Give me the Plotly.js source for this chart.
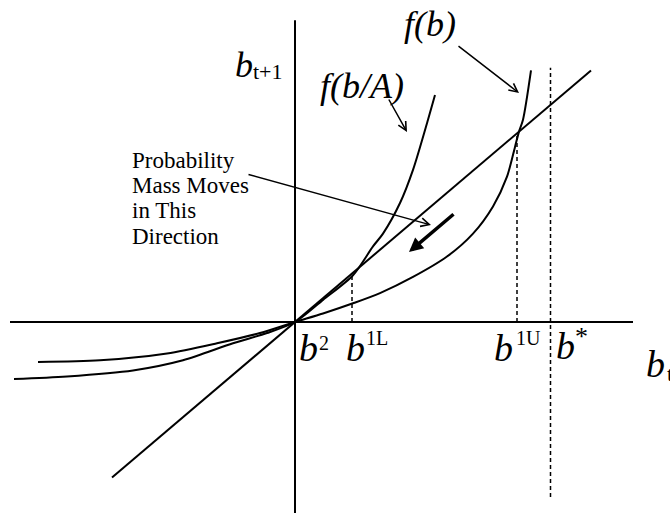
<!DOCTYPE html>
<html>
<head>
<meta charset="utf-8">
<script src="https://cdn.plot.ly/plotly-3.0.1.min.js"></script>
<style>
  html, body { margin: 0; padding: 0; background: #fff; }
  #plotDiv { width: 670px; height: 513px; }
</style>
</head>
<body>
<div id="plotDiv"></div>
<script>
// diagram units: 45 degree line is y = x, origin is b^2
let fbX = [-2.57, -1.95, -1.28, -0.78, -0.35, 0, 0.28, 0.58, 0.85, 1.18, 1.52, 1.78, 1.98, 2.12, 2.20, 2.24, 2.28, 2.36];
let fbY = [-0.47, -0.45, -0.37, -0.25, -0.13, 0, 0.10, 0.22, 0.34, 0.53, 0.77, 1.04, 1.36, 1.71, 2.06, 2.24, 2.38, 2.96];

let fbaX = [-2.81, -2.28, -1.62, -1.12, -0.62, -0.28, 0, 0.28, 0.58, 0.78, 0.88, 1.05, 1.18, 1.33, 1.40];
let fbaY = [-0.67, -0.64, -0.57, -0.45, -0.25, -0.13, 0, 0.26, 0.55, 0.89, 1.04, 1.40, 1.79, 2.38, 2.67];

let diagX = [-1.83, 2.96]; // 45 degree line
let horizX = [-2.85, 3.38];
let vertY = [3.55, -2.3];

let b1L = 0.57, b1U = 2.22, bStar = 2.555;
let bStarY = [-2.06, 2.99];

let black = "#000";
let serif = "Liberation Serif";

function X(px) { return (px - 295) / 100; }
function Y(py) { return (322 - py) / 85; }

let solid = { color: black, width: 2 };
let dashed = { color: black, width: 1.5, dash: "4px,3px" };

let data = [
  { x: horizX, y: [0, 0], mode: "lines", line: solid },
  { x: [0, 0], y: vertY, mode: "lines", line: solid },
  { x: diagX, y: diagX, mode: "lines", line: solid },
  { x: fbX, y: fbY, mode: "lines", line: { color: black, width: 2, shape: "spline", smoothing: 0.8 } },
  { x: fbaX, y: fbaY, mode: "lines", line: { color: black, width: 2, shape: "spline", smoothing: 0.8 } },
  { x: [b1L, b1L], y: [0, b1L], mode: "lines", line: dashed },
  { x: [b1U, b1U], y: [0, b1U], mode: "lines", line: dashed },
  { x: [bStar, bStar], y: bStarY, mode: "lines", line: dashed }
];

// text piece: left edge px, baseline py
function txt(s, px, py, size, anchor) {
  return {
    text: s, x: X(px), y: Y(py - 0.3375 * size), xref: "x", yref: "y",
    xanchor: anchor || "left", yanchor: "middle", showarrow: false,
    font: { family: serif, size: size, color: black, style: "normal" }, borderpad: 0
  };
}

function itxt(s, px, py, size, anchor) {
  let a = txt(s, px, py, size, anchor);
  a.font.style = "italic";
  return a;
}

function arrow(hx, hy, tx, ty, w, head, sz) {
  return {
    text: "", x: X(hx), y: Y(hy), xref: "x", yref: "y",
    ax: tx - hx, ay: ty - hy, showarrow: true,
    arrowcolor: black, arrowwidth: w, arrowhead: head, arrowsize: sz, standoff: 0
  };
}

let annotations = [
  itxt("f(b)", 430, 36, 36, "center"),
  itxt("f(b/A)", 362, 98, 36, "center"),
  itxt("b", 234, 77, 36),
  txt("t+1", 252, 79, 22),
  txt("Probability", 131, 168, 23),
  txt("Mass Moves", 131, 193, 23),
  txt("in This", 131, 218, 23),
  txt("Direction", 131, 244, 23),
  itxt("b", 298, 361, 38),
  txt("2", 318, 350, 20),
  itxt("b", 345, 361, 38),
  txt("1L", 365, 345, 20),
  itxt("b", 493, 361, 38),
  txt("1U", 515, 345, 20),
  itxt("b", 555, 359, 38),
  txt("*", 574, 345, 26),
  itxt("b", 645, 377, 38),
  txt("t", 666, 381, 22),
  arrow(519, 93, 457, 45, 1.5, 5, 1.1),
  arrow(407, 132, 388, 98, 1.5, 5, 1.1),
  arrow(431, 225, 247, 174, 1.5, 5, 1.1),
  arrow(409, 252, 455, 213, 3.5, 2, 0.8)
];

let layout = {
  width: 670,
  height: 513,
  margin: { l: 0, r: 0, t: 0, b: 0 },
  paper_bgcolor: "#fff",
  plot_bgcolor: "#fff",
  showlegend: false,
  xaxis: { range: [X(0), X(670)], visible: false, fixedrange: true },
  yaxis: { range: [Y(513), Y(0)], visible: false, fixedrange: true },
  annotations: annotations
};

Plotly.newPlot("plotDiv", data, layout, { staticPlot: true });
</script>
</body>
</html>
